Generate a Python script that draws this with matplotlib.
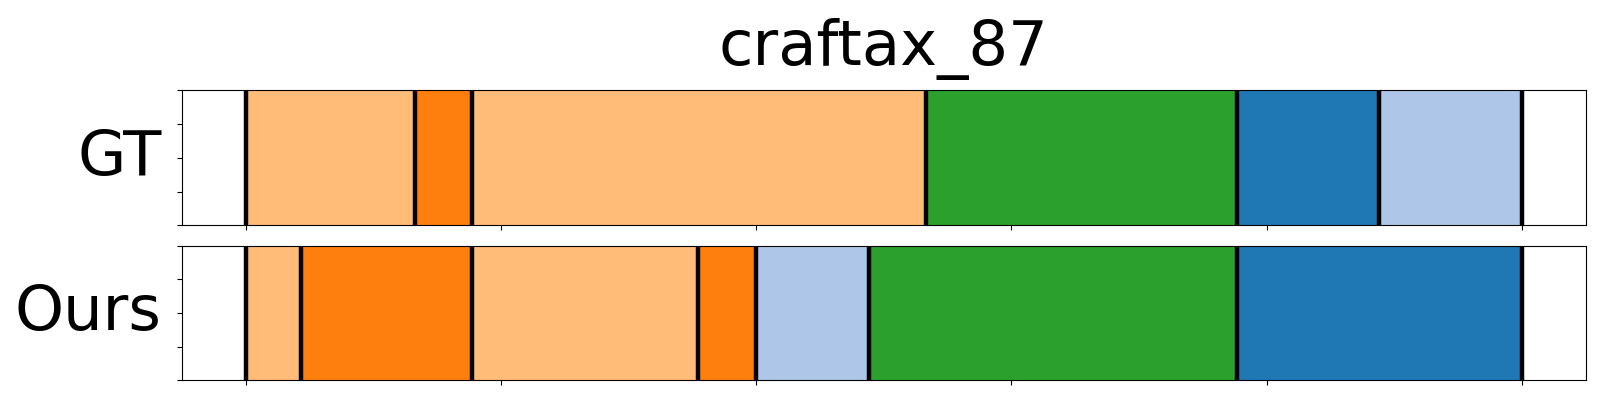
import matplotlib
matplotlib.use('Agg')
import matplotlib.pyplot as plt
import numpy as np

title = 'craftax_87'
rows = ['GT', 'Ours']

# segment boundaries (0..100) and the colour of each segment
gt_bounds = [0, 13.26, 17.73, 53.28, 77.7, 88.78, 100]
gt_colors = ['#ffbb78', '#ff7f0e', '#ffbb78', '#2ca02c', '#1f77b4', '#aec7e8']
ours_bounds = [0, 4.38, 17.73, 35.48, 40.0, 48.83, 77.7, 100]
ours_colors = ['#ffbb78', '#ff7f0e', '#ffbb78', '#ff7f0e', '#aec7e8', '#2ca02c', '#1f77b4']

xticks = [0, 20, 40, 60, 80, 100]
yticks = [0, 0.25, 0.5, 0.75, 1.0]


def draw_row(ax, bounds, colors, label):
    b = np.array(bounds)
    ax.barh(0.5, b[1:] - b[:-1], left=b[:-1], height=1.0, color=colors, edgecolor='none')
    for x in b:
        ax.axvline(x, color='black', linewidth=3.2)
    ax.use_sticky_edges = False
    ax.margins(x=0.05, y=0)
    ax.set_xticks(xticks)
    ax.set_xticklabels([])
    ax.set_yticks(yticks)
    ax.set_yticklabels([])
    ax.set_ylabel(label, rotation=0, ha='right', va='center', fontsize=45, labelpad=7.5)


fig, axes = plt.subplots(2, 1, figsize=(16, 4), dpi=100)
fig.subplots_adjust(left=0.1136, right=0.991, top=0.774, bottom=0.049, hspace=0.151)

draw_row(axes[0], gt_bounds, gt_colors, rows[0])
draw_row(axes[1], ours_bounds, ours_colors, rows[1])
axes[0].set_title(title, fontsize=45, pad=18)

fig.savefig('out.png', dpi=100)
